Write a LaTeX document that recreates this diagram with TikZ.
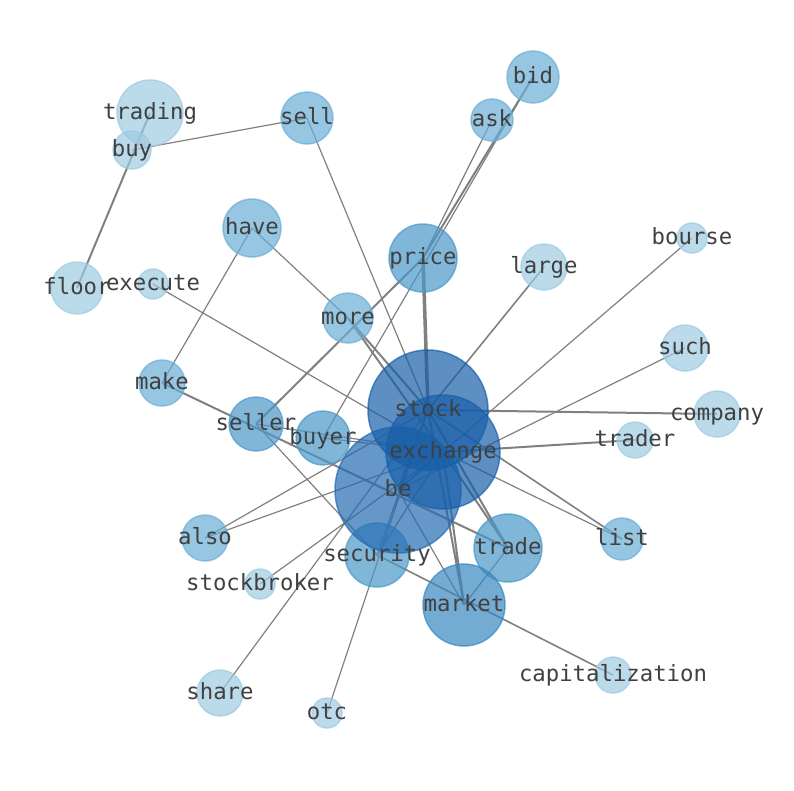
\documentclass[tikz,border=0pt]{standalone}
\usepackage{fontspec}
\setmonofont{DejaVu Sans Mono}
\usepackage{xcolor}
\definecolor{blueA}{RGB}{158,202,225}
\definecolor{blueB}{RGB}{107,174,214}
\definecolor{blueC}{RGB}{74,152,201}
\definecolor{blueD}{RGB}{57,135,192}
\definecolor{blueE}{RGB}{36,108,178}
\definecolor{blueF}{RGB}{24,95,168}
\definecolor{wire}{RGB}{128,128,128}
\tikzset{
  every node/.style={
    text=black!75,
    font=\ttfamily\fontsize{22.3pt}{22.3pt}\selectfont,
    text height=17pt, text depth=5pt, inner sep=0pt
  },
  link/.style={color=wire, line width=1.2pt},
  link thick/.style={color=wire, line width=2pt},
  bubble/.style={fill=#1, draw=#1, fill opacity=0.7, draw opacity=0.7, line width=1.5pt}
}

\begin{document}
\begin{tikzpicture}[x=1pt,y=-1pt]
    \useasboundingbox (0,0) rectangle (794,790);
    % word positions
    \coordinate (stock) at (428,410);
    \coordinate (exchange) at (443,452);
    \coordinate (be) at (398,490);
    \coordinate (price) at (423,258);
    \coordinate (market) at (464,605);
    \coordinate (trade) at (508,548);
    \coordinate (security) at (377,555);
    \coordinate (seller) at (256,424);
    \coordinate (buyer) at (323,438);
    \coordinate (more) at (348,318);
    \coordinate (have) at (252,228);
    \coordinate (make) at (162,383);
    \coordinate (also) at (205,538);
    \coordinate (stockbroker) at (260,584);
    \coordinate (share) at (220,693);
    \coordinate (otc) at (327,713);
    \coordinate (execute) at (153,284);
    \coordinate (floor) at (77,288);
    \coordinate (buy) at (132,150);
    \coordinate (trading) at (150,113);
    \coordinate (sell) at (307,118);
    \coordinate (ask) at (492,120);
    \coordinate (bid) at (533,77);
    \coordinate (large) at (544,267);
    \coordinate (bourse) at (692,238);
    \coordinate (such) at (685,348);
    \coordinate (company) at (717,414);
    \coordinate (trader) at (635,440);
    \coordinate (list) at (622,539);
    \coordinate (capitalization) at (613,675);

    % links
    \draw[link] (buy) -- (sell) (sell) -- (stock) (have) -- (make) (have) -- (more)
      (execute) -- (exchange) (ask) -- (price) (bid) -- (buyer) (bourse) -- (exchange)
      (such) -- (be) (also) -- (stock) (also) -- (exchange) (stockbroker) -- (exchange)
      (share) -- (stock) (otc) -- (stock) (seller) -- (security) (market) -- (trade)
      (list) -- (exchange) (seller) -- (exchange) (buyer) -- (exchange)
      (security) -- (stock) (security) -- (exchange) (be) -- (market);
    \draw[link, line width=1.6pt] (large) -- (stock) (capitalization) -- (security)
      (list) -- (stock);
    \draw[link thick] (floor) -- (trading) (bid) -- (price) (seller) -- (price)
      (make) -- (trade) (more) -- (stock) (more) -- (exchange) (company) -- (stock)
      (trader) -- (exchange) (trade) -- (stock) (trade) -- (exchange)
      (stock) -- (market) (exchange) -- (market) (be) -- (stock) (be) -- (exchange);
    \draw[link, line width=3.5pt] (price) -- (stock);

    % bubbles
    \filldraw[bubble=blueA] (trading) circle (33pt);
    \filldraw[bubble=blueA] (buy) circle (19pt);
    \filldraw[bubble=blueA] (floor) circle (26pt);
    \filldraw[bubble=blueA] (execute) circle (15pt);
    \filldraw[bubble=blueA] (large) circle (23pt);
    \filldraw[bubble=blueA] (bourse) circle (15pt);
    \filldraw[bubble=blueA] (such) circle (23pt);
    \filldraw[bubble=blueA] (company) circle (23pt);
    \filldraw[bubble=blueA] (trader) circle (18pt);
    \filldraw[bubble=blueA] (capitalization) circle (18pt);
    \filldraw[bubble=blueA] (stockbroker) circle (15pt);
    \filldraw[bubble=blueA] (share) circle (23pt);
    \filldraw[bubble=blueA] (otc) circle (15pt);
    \filldraw[bubble=blueB] (sell) circle (26pt);
    \filldraw[bubble=blueB] (bid) circle (26pt);
    \filldraw[bubble=blueB] (ask) circle (21pt);
    \filldraw[bubble=blueB] (have) circle (29pt);
    \filldraw[bubble=blueB] (more) circle (25pt);
    \filldraw[bubble=blueB] (make) circle (23pt);
    \filldraw[bubble=blueB] (also) circle (23pt);
    \filldraw[bubble=blueB] (list) circle (21pt);
    \filldraw[bubble=blueC] (seller) circle (27pt);
    \filldraw[bubble=blueC] (buyer) circle (27pt);
    \filldraw[bubble=blueC] (price) circle (34pt);
    \filldraw[bubble=blueC] (trade) circle (34pt);
    \filldraw[bubble=blueC] (security) circle (32pt);
    \filldraw[bubble=blueD] (market) circle (41pt);
    \filldraw[bubble=blueE] (be) circle (63pt);
    \filldraw[bubble=blueF] (stock) circle (60pt);
    \filldraw[bubble=blueF] (exchange) circle (57pt);

    % words
    \node (ltrading) at (trading) {trading};
    \node (lbuy) at (buy) {buy};
    \node (lfloor) at (floor) {floor};
    \node (lexecute) at (execute) {execute};
    \node (llarge) at (large) {large};
    \node (lbourse) at (bourse) {bourse};
    \node (lsuch) at (such) {such};
    \node (lcompany) at (company) {company};
    \node (ltrader) at (trader) {trader};
    \node (lcapitalization) at (capitalization) {capitalization};
    \node (lstockbroker) at (stockbroker) {stockbroker};
    \node (lshare) at (share) {share};
    \node (lotc) at (otc) {otc};
    \node (lsell) at (sell) {sell};
    \node (lbid) at (bid) {bid};
    \node (lask) at (ask) {ask};
    \node (lhave) at (have) {have};
    \node (lmore) at (more) {more};
    \node (lmake) at (make) {make};
    \node (lalso) at (also) {also};
    \node (llist) at (list) {list};
    \node (lseller) at (seller) {seller};
    \node (lbuyer) at (buyer) {buyer};
    \node (lprice) at (price) {price};
    \node (ltrade) at (trade) {trade};
    \node (lsecurity) at (security) {security};
    \node (lmarket) at (market) {market};
    \node (lbe) at (be) {be};
    \node (lstock) at (stock) {stock};
    \node (lexchange) at (exchange) {exchange};
\end{tikzpicture}
\end{document}
